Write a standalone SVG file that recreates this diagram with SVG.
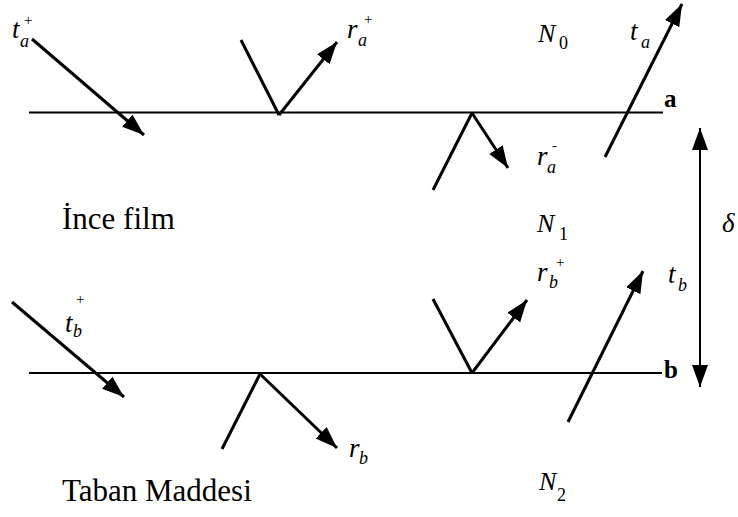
<svg xmlns="http://www.w3.org/2000/svg" width="738" height="517" viewBox="0 0 738 517">
<style>
.bg{fill:#fff}
.iface{stroke:#000;stroke-width:1.8;fill:none}
.ray{stroke:#000;stroke-width:3;fill:none;stroke-linecap:butt}
.arr{marker-end:url(#ah)}
.dim{stroke:#000;stroke-width:2;fill:none;marker-start:url(#ahs);marker-end:url(#ah)}
.t{font-family:"Liberation Serif","Times New Roman",serif;fill:#000}
.v{font-style:italic;font-size:27px}
.N{font-style:italic;font-size:26px}
.sub{font-style:italic;font-size:18px}
.num{font-size:18px}
.sup{font-size:15px}
.lbl{font-weight:bold;font-size:25px}
.txt{font-size:31px}
</style>
<defs>
<marker id="ah" markerUnits="userSpaceOnUse" markerWidth="24" markerHeight="18" refX="22" refY="8" orient="auto">
<path d="M0,0 L22,8 L0,16 Z" fill="#000"/>
</marker>
<marker id="ahs" markerUnits="userSpaceOnUse" markerWidth="24" markerHeight="18" refX="22" refY="8" orient="auto-start-reverse">
<path d="M0,0 L22,8 L0,16 Z" fill="#000"/>
</marker>
</defs>
<rect class="bg" x="0" y="0" width="738" height="517"/>

<g id="interfaces">
<line id="line-a" class="iface" x1="29" y1="112.5" x2="663" y2="112.5"/>
<line id="line-b" class="iface" x1="29" y1="373" x2="662" y2="373"/>
</g>

<g id="connectors">
<line id="ray-ta-plus" class="ray arr" x1="32" y1="39" x2="144" y2="135"/>
<line id="ray-va-in" class="ray" x1="241" y1="40" x2="279" y2="115"/>
<line id="ray-ra-plus" class="ray arr" x1="279" y1="115" x2="337" y2="42"/>
<line id="ray-vam-in" class="ray" x1="433" y1="190" x2="472" y2="113"/>
<line id="ray-ra-minus" class="ray arr" x1="472" y1="113" x2="508" y2="168"/>
<line id="ray-ta-minus" class="ray arr" x1="605" y1="157" x2="682" y2="4"/>
<line id="ray-vb-in" class="ray" x1="433" y1="299" x2="472" y2="373"/>
<line id="ray-rb-plus" class="ray arr" x1="472" y1="373" x2="527" y2="300"/>
<line id="ray-tb-minus" class="ray arr" x1="568" y1="422" x2="643" y2="271"/>
<line id="ray-tb-plus" class="ray arr" x1="12" y1="302" x2="124" y2="397"/>
<line id="ray-vbm-in" class="ray" x1="222" y1="449" x2="260" y2="374"/>
<line id="ray-rb-minus" class="ray arr" x1="260" y1="374" x2="337" y2="448"/>
<line id="dim-delta" class="dim" x1="700" y1="128" x2="700" y2="387"/>
</g>

<g id="label-ta-plus">
<text class="t v" x="12" y="38">t</text>
<text class="t sup" x="24" y="25">+</text>
<text class="t sub" x="20" y="47">a</text>
</g>
<g id="label-ra-plus">
<text class="t v" x="347" y="38">r</text>
<text class="t sup" x="364" y="24">+</text>
<text class="t sub" x="358" y="46">a</text>
</g>
<g id="label-N0">
<text class="t N" x="538" y="42">N</text>
<text class="t num" x="559" y="49">0</text>
</g>
<g id="label-ta-minus">
<text class="t v" x="630" y="40">t</text>
<text class="t sub" x="641" y="48">a</text>
</g>
<g id="label-a">
<text class="t lbl" x="664" y="107">a</text>
</g>
<g id="label-ra-minus">
<text class="t v" x="537" y="165">r</text>
<text class="t sub" x="547" y="173">a</text>
<text class="t sup" x="552" y="150">-</text>
</g>
<g id="label-ince">
<text class="t txt" x="62" y="229">İnce film</text>
</g>
<g id="label-N1">
<text class="t N" x="537" y="232">N</text>
<text class="t num" x="559" y="240">1</text>
</g>
<g id="label-delta">
<text class="t v" x="722" y="232" font-size="28">δ</text>
</g>
<g id="label-rb-plus">
<text class="t v" x="537" y="281">r</text>
<text class="t sub" x="549" y="288">b</text>
<text class="t sup" x="556" y="267" font-size="12">+</text>
</g>
<g id="label-tb-minus">
<text class="t v" x="668" y="283">t</text>
<text class="t sub" x="678" y="291">b</text>
</g>
<g id="label-tb-plus">
<text class="t v" x="65" y="332">t</text>
<text class="t sup" x="76" y="304">+</text>
<text class="t sub" x="73" y="337">b</text>
</g>
<g id="label-b">
<text class="t lbl" x="664" y="378">b</text>
</g>
<g id="label-rb-minus">
<text class="t v" x="349" y="457">r</text>
<text class="t sub" x="359" y="464">b</text>
</g>
<g id="label-taban">
<text class="t txt" x="62" y="501">Taban Maddesi</text>
</g>
<g id="label-N2">
<text class="t N" x="539" y="490">N</text>
<text class="t num" x="557" y="501">2</text>
</g>
</svg>
